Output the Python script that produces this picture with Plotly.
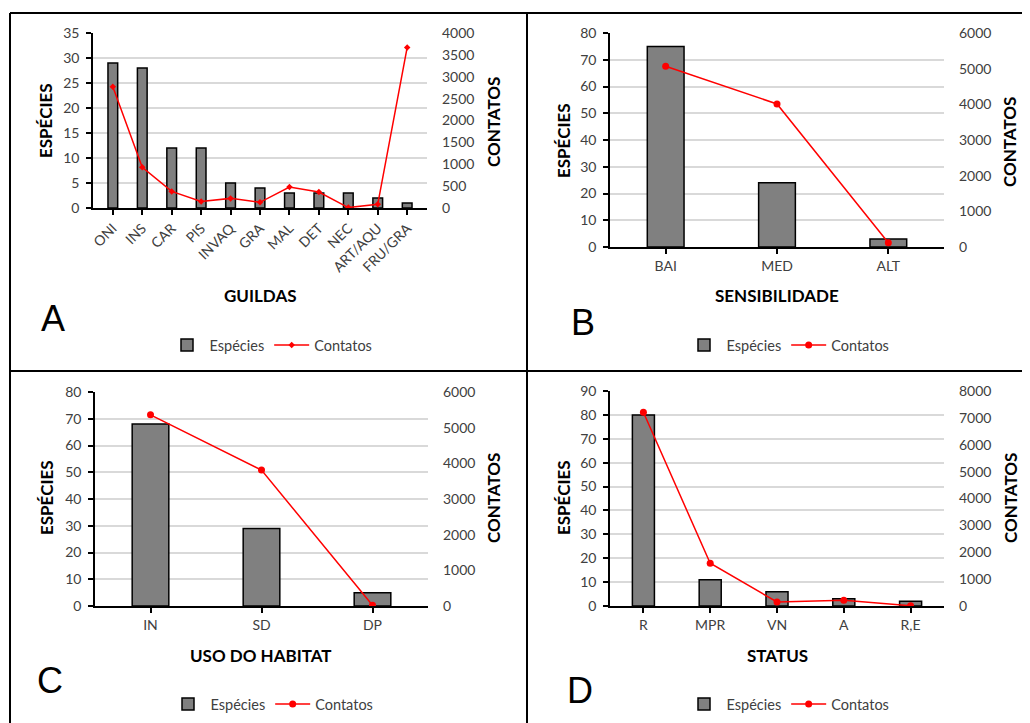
import plotly.graph_objects as go

# The page places the figure 8 px from the top-left corner (browser body margin),
# so the figure is sized to the visible area and pixel positions are offset.
OFF = 8
W, H = 1030 - OFF, 723 - OFF

# ---------------- data ----------------
guildas = ["ONI", "INS", "CAR", "PIS", "INVAQ", "GRA", "MAL", "DET", "NEC", "ART/AQU", "FRU/GRA"]
guildas_especies = [29, 28, 12, 12, 5, 4, 3, 3, 3, 2, 1]
guildas_contatos = [2770, 930, 380, 150, 220, 130, 480, 365, 10, 85, 3670]

sens = ["BAI", "MED", "ALT"]
sens_especies = [75, 24, 3]
sens_contatos = [5070, 4010, 120]

habitat = ["IN", "SD", "DP"]
habitat_especies = [68, 29, 5]
habitat_contatos = [5360, 3810, 20]

status = ["R", "MPR", "VN", "A", "R,E"]
status_especies = [80, 11, 6, 3, 2]
status_contatos = [7210, 1590, 150, 210, 10]

left_ranges = [(35, 5), (80, 10), (80, 10), (90, 10)]
right_ranges = [(4000, 500), (6000, 1000), (6000, 1000), (8000, 1000)]
xtitles = ["GUILDAS", "SENSIBILIDADE", "USO DO HABITAT", "STATUS"]
letters = ["A", "B", "C", "D"]


def px(x):
    return (x - OFF) / W


def py(y):
    return 1 - (y - OFF) / H


# layout (screen pixel positions)
panels = [
    dict(cats=guildas, esp=guildas_especies, cont=guildas_contatos,
         x0=93, x1=427, y0=33, y1=208, angle=-45, marker="diamond", msize=5,
         ytl=(45, 121), ytr=(493, 122), xt=(260, 295), let=(53, 318), leg=(271, 345)),
    dict(cats=sens, esp=sens_especies, cont=sens_contatos,
         x0=610, x1=944, y0=33, y1=247, angle=0, marker="circle", msize=7,
         ytl=(563, 141), ytr=(1010, 142), xt=(777, 295), let=(583, 322), leg=(788, 345)),
    dict(cats=habitat, esp=habitat_especies, cont=habitat_contatos,
         x0=95, x1=428, y0=392, y1=606, angle=0, marker="circle", msize=7,
         ytl=(46, 498), ytr=(493, 498), xt=(261, 655), let=(50, 680), leg=(272, 704)),
    dict(cats=status, esp=status_especies, cont=status_contatos,
         x0=610, x1=944, y0=391, y1=606, angle=0, marker="circle", msize=7,
         ytl=(563, 498), ytr=(1010, 498), xt=(777, 655), let=(580, 690), leg=(788, 704)),
]

fig = go.Figure()
layout = dict(
    template="none",
    width=W, height=H, autosize=False,
    margin=dict(l=0, r=0, t=0, b=0, pad=0, autoexpand=False),
    paper_bgcolor="white", plot_bgcolor="rgba(0,0,0,0)",
    font=dict(family="Lato", size=14, color="#404040"),
    showlegend=True,
)
annotations = []
tickfont = dict(family="Lato", size=14, color="#404040")
titlefont = dict(family="Lato", size=17, color="black", weight="bold")

for i, p in enumerate(panels):
    n = i + 1
    xn = "x" if n == 1 else f"x{n}"
    yl_n = 2 * n - 1
    yr_n = 2 * n
    yl = "y" if yl_n == 1 else f"y{yl_n}"
    yr = f"y{yr_n}"
    leg = "legend" if n == 1 else f"legend{n}"

    fig.add_trace(go.Bar(
        x=p["cats"], y=p["esp"], xaxis=xn, yaxis=yl, name="Espécies", legend=leg,
        marker=dict(color="#808080", line=dict(color="black", width=1.5)),
        width=0.33,
    ))
    fig.add_trace(go.Scatter(
        x=p["cats"], y=p["cont"], xaxis=xn, yaxis=yr, name="Contatos", legend=leg,
        mode="lines+markers",
        line=dict(color="#ff0000", width=1.5),
        marker=dict(color="#ff0000", size=p["msize"], symbol=p["marker"]),
    ))

    xkey = "xaxis" if n == 1 else f"xaxis{n}"
    ylkey = "yaxis" if yl_n == 1 else f"yaxis{yl_n}"
    yrkey = f"yaxis{yr_n}"
    lmax, ldt = left_ranges[i]
    rmax, rdt = right_ranges[i]

    layout[xkey] = dict(
        domain=[px(p["x0"]), px(p["x1"])], anchor=yl, type="category", automargin=False,
        showline=True, linecolor="black", linewidth=1.5,
        ticks="outside", ticklen=5, tickcolor="black", tickwidth=1.5,
        tickangle=p["angle"], tickfont=tickfont, showgrid=False, zeroline=False,
    )
    layout[ylkey] = dict(
        domain=[py(p["y1"]), py(p["y0"])], anchor=xn, automargin=False,
        range=[0, lmax], dtick=ldt, tick0=0,
        showline=True, linecolor="black", linewidth=1.5,
        ticks="outside", ticklen=5, tickcolor="black", tickwidth=1.5,
        showgrid=True, gridcolor="#d9d9d9", gridwidth=1.5, zeroline=False,
        tickfont=tickfont, ticklabelstandoff=4,
    )
    layout[yrkey] = dict(
        overlaying=yl, side="right", anchor=xn, automargin=False,
        range=[0, rmax], dtick=rdt, tick0=0,
        showline=False, showgrid=False, zeroline=False, ticks="",
        tickfont=tickfont, ticklabelstandoff=14,
    )
    layout[leg] = dict(
        orientation="h", x=px(p["leg"][0]), y=py(p["leg"][1]),
        xanchor="center", yanchor="middle",
        font=dict(family="Lato", size=14.5, color="#404040"),
        bgcolor="rgba(0,0,0,0)", borderwidth=0, itemwidth=35, tracegroupgap=0,
    )

    annotations += [
        dict(text="ESPÉCIES", x=px(p["ytl"][0]), y=py(p["ytl"][1]), xref="paper", yref="paper",
             textangle=-90, showarrow=False, font=titlefont, xanchor="center", yanchor="middle"),
        dict(text="CONTATOS", x=px(p["ytr"][0]), y=py(p["ytr"][1]), xref="paper", yref="paper",
             textangle=-90, showarrow=False, font=titlefont, xanchor="center", yanchor="middle"),
        dict(text=xtitles[i], x=px(p["xt"][0]), y=py(p["xt"][1]), xref="paper", yref="paper",
             showarrow=False, font=titlefont, xanchor="center", yanchor="middle"),
        dict(text=letters[i], x=px(p["let"][0]), y=py(p["let"][1]), xref="paper", yref="paper",
             showarrow=False, font=dict(family="Liberation Sans", size=36, color="black"),
             xanchor="center", yanchor="middle"),
    ]

shapes = [
    dict(type="line", xref="paper", yref="paper", x0=px(10), x1=1, y0=py(13), y1=py(13),
         line=dict(color="black", width=2)),
    dict(type="line", xref="paper", yref="paper", x0=px(10), x1=px(10), y0=py(13), y1=0,
         line=dict(color="black", width=2)),
    dict(type="line", xref="paper", yref="paper", x0=px(527), x1=px(527), y0=py(13), y1=0,
         line=dict(color="black", width=2)),
    dict(type="line", xref="paper", yref="paper", x0=px(10), x1=1, y0=py(371), y1=py(371),
         line=dict(color="black", width=2)),
]

layout["annotations"] = annotations
layout["shapes"] = shapes
fig.update_layout(**layout)

fig.write_html("out.html")
